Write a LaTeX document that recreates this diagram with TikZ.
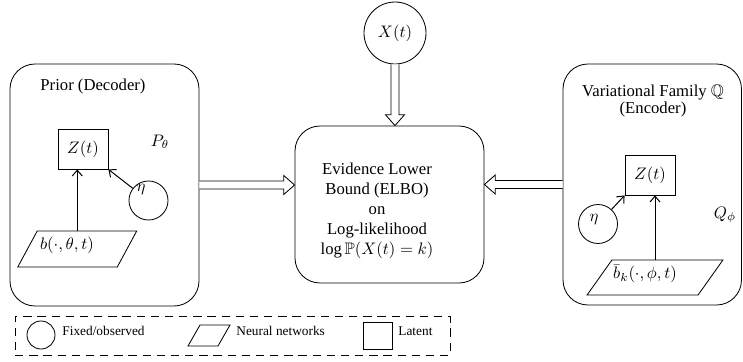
\documentclass[tikz,border=0pt]{standalone}
\usepackage{amssymb}
\usepackage{fontspec}
\setmainfont{Liberation Serif}
\usetikzlibrary{arrows.meta,shapes.geometric,calc}
\begin{document}
\begin{tikzpicture}[x=0.6pt,y=-0.6pt,
  line width=0.5pt,
  bigbox/.style={draw, rounded corners=15pt, inner sep=0pt},
  latentbox/.style={draw, rectangle, inner sep=0pt, minimum width=30pt, minimum height=24pt},
  fixedcirc/.style={draw, circle, inner sep=0pt},
  nnbox/.style={draw, rectangle, inner sep=0pt, transform shape},
  thinarrow/.style={-{Straight Barb[length=3.5pt,width=6pt]}, line width=0.6pt},
  fat/.style={draw, fill=white, line width=0.5pt, to path={
    let \p1=($(\tikztotarget)!6.5pt!(\tikztostart)$) in
    ($(\tikztostart)!2.4pt!90:(\tikztotarget)$)
    -- ($(\p1)!2.4pt!-90:(\tikztostart)$)
    -- ($(\p1)!5.7pt!-90:(\tikztostart)$)
    -- (\tikztotarget)
    -- ($(\p1)!5.7pt!90:(\tikztostart)$)
    -- ($(\p1)!2.4pt!90:(\tikztostart)$)
    -- ($(\tikztostart)!2.4pt!-90:(\tikztotarget)$)}},
  lbl/.style={inner sep=0pt},
  legtext/.style={inner sep=0pt, anchor=west, font=\footnotesize}
]
\useasboundingbox (0,0) rectangle (743,362);

% big boxes
\node[bigbox, minimum width=113.4pt, minimum height=145.2pt] (prior) at (104.5,185) {};
\node[bigbox, minimum width=107.1pt, minimum height=144.6pt] (varfam) at (652.25,184.5) {};
\node[bigbox, minimum width=113.4pt, minimum height=94.2pt] (elbo) at (389.5,204.5) {};

% observed X
\node[fixedcirc, minimum size=37.2pt] (X) at (395,33) {$X(t)$};

% ELBO text
\node[lbl, align=center] (elbotext) at (377,211) {Evidence Lower\\Bound (ELBO)\\on\\Log-likelihood\\$\log\mathbb{P}(X(t)=k)$};

% prior side
\node[lbl] (priortitle) at (93,86) {Prior (Decoder)};
\node[lbl] (ptheta) at (160,142) {$P_\theta$};
\node[latentbox] (zL) at (83,149) {$Z(t)$};
\node[fixedcirc, minimum size=23.4pt] (etaL) at (148.5,200.5) {};
\node[lbl] (etaLtext) at (141,190) {$\eta$};
\begin{scope}[shift={(77.25,249)}, xslant=0.54]
\node[nnbox, minimum width=59.7pt, minimum height=21.6pt] (bL) at (0,0) {};
\end{scope}
\node[lbl] (bLtext) at (67,245) {$b(\cdot,\theta,t)$};

% encoder side
\node[lbl, align=center] (vartitle) at (653,101) {Variational Family $\mathbb{Q}$\\[-1.5pt](Encoder)};
\node[lbl] (qphi) at (725,215) {$Q_\phi$};
\node[latentbox] (zR) at (650,175) {$Z(t)$};
\node[fixedcirc, minimum size=23.4pt] (etaR) at (598,224) {};
\node[lbl] (etaRtext) at (594,220) {$\eta$};
\begin{scope}[shift={(655,277.5)}, xslant=0.71]
\node[nnbox, minimum width=66.6pt, minimum height=21pt] (bR) at (0,0) {};
\end{scope}
\node[lbl] (bRtext) at (645,274) {$\bar{b}_k(\cdot,\phi,t)$};

% connector end points
\coordinate (bLtop) at (bL.center |- bL.north);
\coordinate (bRtop) at (bR.center |- bR.north);
\coordinate (zLin) at (bLtop |- zL.south);
\coordinate (zRin) at (bRtop |- zR.south);
\coordinate (elboTop) at (X.south |- elbo.north);
\coordinate (elboLeft) at (elbo.west |- prior.east);
\coordinate (elboRight) at (elbo.east |- varfam.west);

% arrows
\draw[thinarrow] (etaL) -- (zL.south east);
\draw[thinarrow] (bLtop) -- (zLin);
\draw[thinarrow] (etaR) -- (zR.south west);
\draw[thinarrow] (bRtop) -- (zRin);

\draw[fat] (X.south) to (elboTop);
\draw[fat] (prior.east) to (elboLeft);
\draw[fat] (varfam.west) to (elboRight);

% legend
\node[draw, dashed, dash pattern=on 5pt off 3.5pt, minimum width=261pt, minimum height=23.4pt, inner sep=0pt] (legend) at (232.5,335.5) {};
\node[fixedcirc, minimum size=16.8pt] (legcirc) at (41,335) {};
\node[legtext] (legcirctext) at (62,331) {Fixed/observed};
\begin{scope}[shift={(209,335.5)}, xslant=0.57]
\node[nnbox, minimum width=18pt, minimum height=12.6pt] (legnn) at (0,0) {};
\end{scope}
\node[legtext] (legnntext) at (236,331) {Neural networks};
\node[draw, rectangle, inner sep=0pt, minimum width=17.4pt, minimum height=16.2pt] (leglat) at (377.5,335.5) {};
\node[legtext] (leglattext) at (398,331) {Latent};
\end{tikzpicture}
\end{document}
